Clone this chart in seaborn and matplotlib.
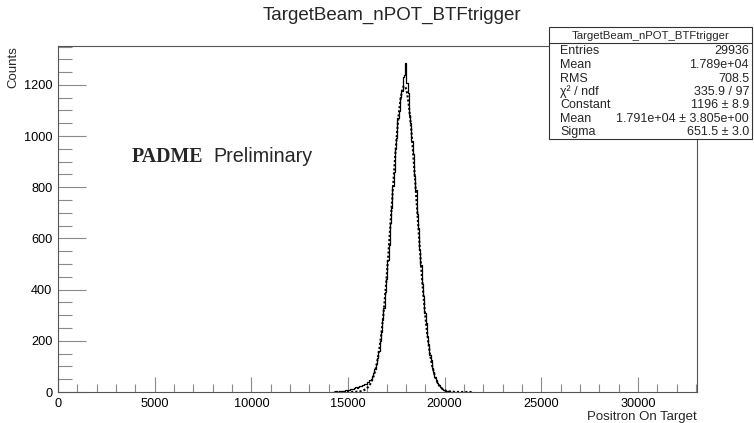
import numpy as np
import pandas as pd
import seaborn as sns
import matplotlib
matplotlib.use("Agg")
import matplotlib.pyplot as plt
from matplotlib.patches import Rectangle
from matplotlib.lines import Line2D
from matplotlib.ticker import MultipleLocator

# ---------------- data ----------------
TITLE = "TargetBeam_nPOT_BTFtrigger"
X_LABEL = "Positron On Target"
Y_LABEL = "Counts"
BIN_WIDTH = 66
FIRST_EDGE = 14190  # left edge of first listed bin
counts = [
    1, 0, 1, 2, 1, 3, 2, 4, 5, 4,
    7, 6, 9, 8, 11, 13, 12, 16, 18, 17,
    21, 23, 22, 27, 26, 31, 33, 38, 41, 47,
    52, 61, 73, 88, 109, 131, 162, 198, 236, 281,
    327, 392, 441, 517, 573, 659, 718, 806, 861, 951,
    992, 1071, 1098, 1152, 1178, 1232, 1240, 1285, 1206, 1168,
    1083, 1052, 979, 931, 843, 788, 697, 641, 555, 498,
    421, 374, 309, 268, 217, 186, 146, 124, 93, 79,
    58, 47, 34, 28, 19, 16, 10, 8, 5, 4,
    3, 2, 1, 1, 0, 1,
]
fit_constant = 1196.0
fit_mean = 1.791e4
fit_sigma = 651.5
fit_range = (14300, 21500)

stats_names = ["Entries", "Mean", "RMS", "\u03c7\u00b2 / ndf", "Constant", "Mean", "Sigma"]
stats_values = ["29936", "1.789e+04", "708.5", "335.9 / 97", "1196 \u00b1 8.9",
                "1.791e+04 \u00b1 3.805e+00", "651.5 \u00b1 3.0"]

# ---------------- figure ----------------
sns.set_theme(style="white")
plt.rcParams["font.family"] = ["Liberation Sans", "DejaVu Sans"]

W, H = 754, 423
fig = plt.figure(figsize=(W / 100, H / 100), dpi=100)
fig.patch.set_facecolor("white")
ax = fig.add_axes([58 / W, (H - 392) / H, 639 / W, 346 / H])
ax.set_facecolor("white")

n_bins = len(counts)
edges = FIRST_EDGE + BIN_WIDTH * np.arange(n_bins + 1)
centers = (edges[:-1] + edges[1:]) / 2
df = pd.DataFrame({"x": centers, "w": np.asarray(counts, dtype=float)})
sns.histplot(data=df, x="x", weights="w", binwidth=BIN_WIDTH,
             binrange=(float(edges[0]), float(edges[-1])), element="step", fill=False,
             color="black", linewidth=0.9, ax=ax)

xf = np.linspace(fit_range[0], fit_range[1], 600)
yf = fit_constant * np.exp(-0.5 * ((xf - fit_mean) / fit_sigma) ** 2)
sns.lineplot(x=xf, y=yf, ax=ax, color="black", linewidth=1.5,
             linestyle=(0, (1, 1)))

ax.set_xlim(0, 33050)
ax.set_ylim(0, 1352)
ax.xaxis.set_major_locator(MultipleLocator(5000))
ax.xaxis.set_minor_locator(MultipleLocator(1000))
ax.yaxis.set_major_locator(MultipleLocator(200))
ax.yaxis.set_minor_locator(MultipleLocator(50))
tick_col = "#8a8a8a"
ax.tick_params(axis="x", which="major", direction="in", length=11, width=0.8,
               colors=tick_col, labelcolor="black", labelsize=9.2, pad=4,
               top=False, bottom=True)
ax.tick_params(axis="x", which="minor", direction="in", length=6, width=0.8,
               colors=tick_col, top=False, bottom=True)
ax.tick_params(axis="y", which="major", direction="in", length=20, width=0.8,
               colors=tick_col, labelcolor="black", labelsize=9.2, pad=4,
               left=True, right=False)
ax.tick_params(axis="y", which="minor", direction="in", length=10, width=0.8,
               colors=tick_col, left=True, right=False)
for s in ax.spines.values():
    s.set_visible(True)
    s.set_color("#555555")
    s.set_linewidth(0.8)

ax.set_xlabel(X_LABEL, loc="right", fontsize=9.5, labelpad=1)
ax.set_ylabel(Y_LABEL, loc="top", fontsize=9.5, labelpad=3)

fig.text(392 / W, 1 - 15 / H, TITLE, ha="center", va="center", fontsize=13.5)

# PADME Preliminary
fig.text(132 / W, 1 - 161.5 / H, "PADME", ha="left", va="baseline", fontsize=14.3,
         fontweight="bold", family=["Liberation Serif", "DejaVu Serif"])
fig.text(213 / W, 1 - 161.5 / H, "Preliminary", ha="left", va="baseline", fontsize=14.2)

# stats box
bx0, bx1 = 549, 752
by0, by1 = 27, 139
fig.patches.append(Rectangle((bx0 / W, 1 - by1 / H), (bx1 - bx0) / W, (by1 - by0) / H,
                             transform=fig.transFigure, facecolor="white",
                             edgecolor="#333333", linewidth=0.8, zorder=5))
fig.lines.append(Line2D([bx0 / W, bx1 / W], [1 - 43.5 / H, 1 - 43.5 / H],
                        transform=fig.transFigure, color="#333333", linewidth=0.8, zorder=6))
fig.text((bx0 + bx1) / 2 / W, 1 - 36 / H, TITLE, ha="center", va="center",
         fontsize=8.2, zorder=7)
row_y = [51, 65, 78.5, 92, 105.5, 119, 132]
for name, val, yy in zip(stats_names, stats_values, row_y):
    fig.text(560 / W, 1 - yy / H, name, ha="left", va="center", fontsize=9, zorder=7)
    fig.text(749 / W, 1 - yy / H, val, ha="right", va="center", fontsize=9, zorder=7)

fig.savefig("out.png", dpi=100)
